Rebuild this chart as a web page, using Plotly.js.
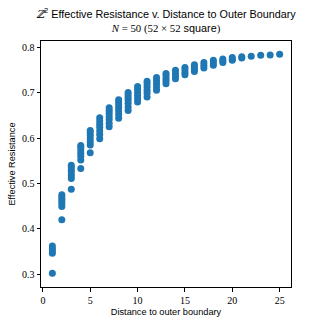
<!DOCTYPE html>
<html>
<head>
<meta charset="utf-8">
<script src="https://cdn.plot.ly/plotly-3.0.1.min.js"></script>
<style>
  html, body { margin: 0; padding: 0; background: #fff; }
  #graph { width: 324px; height: 324px; }
</style>
</head>
<body>
<div id="graph"></div>
<script>
// distance to outer boundary, one column of points for each
const distances = [1, 2, 3, 4, 5, 6, 7, 8, 9, 10, 11, 12, 13, 14, 15, 16, 17, 18, 19, 20, 21, 22, 23, 24, 25];

// effective resistance values
const resistances = [
  [0.302, 0.346, 0.351, 0.356, 0.362],
  [0.420, 0.449, 0.455, 0.460, 0.465, 0.470, 0.475],
  [0.487, 0.511, 0.517, 0.523, 0.529, 0.535, 0.540],
  [0.533, 0.552, 0.560, 0.567, 0.574, 0.580, 0.584],
  [0.568, 0.585, 0.592, 0.599, 0.606, 0.612, 0.617],
  [0.599, 0.608, 0.616, 0.624, 0.631, 0.638, 0.645],
  [0.625, 0.633, 0.641, 0.648, 0.655, 0.661, 0.667],
  [0.644, 0.652, 0.660, 0.667, 0.674, 0.680, 0.685],
  [0.661, 0.669, 0.677, 0.684, 0.690, 0.696, 0.701],
  [0.680, 0.687, 0.694, 0.701, 0.708, 0.714],
  [0.691, 0.699, 0.706, 0.713, 0.720, 0.7255],
  [0.706, 0.713, 0.720, 0.727, 0.734],
  [0.720, 0.726, 0.732, 0.738, 0.743],
  [0.731, 0.737, 0.743, 0.750],
  [0.740, 0.745, 0.751, 0.756],
  [0.747, 0.752, 0.757, 0.762],
  [0.755, 0.761, 0.767],
  [0.761, 0.767, 0.772],
  [0.767, 0.771, 0.775],
  [0.772, 0.775, 0.778],
  [0.777, 0.780],
  [0.781],
  [0.783],
  [0.7835],
  [0.785]
];

const xTicks = [0, 5, 10, 15, 20, 25];
const yTicks = [0.3, 0.4, 0.5, 0.6, 0.7, 0.8];

// flatten columns into x / y
let xs = [], ys = [];
distances.forEach((d, i) => {
  resistances[i].forEach(r => {
    xs.push(d);
    ys.push(r);
  });
});

const serif = "'Liberation Serif', 'DejaVu Serif', serif";
const sans = "'Liberation Sans', 'DejaVu Sans', sans-serif";

function m(s) {
  return `<span style="font-family:${serif}">${s}</span>`;
}

const titleText =
  `<span style="font-family:'DejaVu Serif'"><i>ℤ</i></span><sup>2</sup> Effective Resistance v. Distance to Outer Boundary<br>` +
  m("<i>N</i> = 50 (52 × 52") + " square" + m(")");

const axisCommon = {
  showline: true,
  mirror: true,
  linecolor: "#000",
  linewidth: 1,
  ticks: "outside",
  ticklen: 3.5,
  tickwidth: 1,
  tickcolor: "#000",
  showgrid: false,
  zeroline: false,
  tickfont: { family: serif, size: 10, color: "#000" }
};

Plotly.newPlot("graph", [{
  x: xs,
  y: ys,
  type: "scatter",
  mode: "markers",
  marker: { size: 7, color: "#1f77b4", line: { width: 0 } },
  hoverinfo: "skip"
}], {
  width: 324,
  height: 324,
  margin: { l: 41, r: 33, t: 41, b: 37 },
  paper_bgcolor: "#fff",
  plot_bgcolor: "#fff",
  showlegend: false,
  font: { family: sans, color: "#000" },
  title: {
    text: titleText,
    font: { family: sans, size: 10.8, color: "#000" },
    x: 0.5,
    xanchor: "center",
    xref: "paper",
    y: 0.945,
    yref: "container",
    yanchor: "top"
  },
  xaxis: Object.assign({}, axisCommon, {
    range: [-0.2, 26.2],
    tickvals: xTicks,
    ticktext: xTicks.map(String),
    title: { text: "Distance to outer boundary", font: { family: sans, size: 9.2, color: "#000" }, standoff: 4 }
  }),
  yaxis: Object.assign({}, axisCommon, {
    range: [0.2715, 0.8145],
    tickvals: yTicks,
    ticktext: yTicks.map(v => v.toFixed(1)),
    title: { text: "Effective Resistance", font: { family: sans, size: 9.2, color: "#000" }, standoff: 4 }
  })
}, { staticPlot: true });
</script>
</body>
</html>
